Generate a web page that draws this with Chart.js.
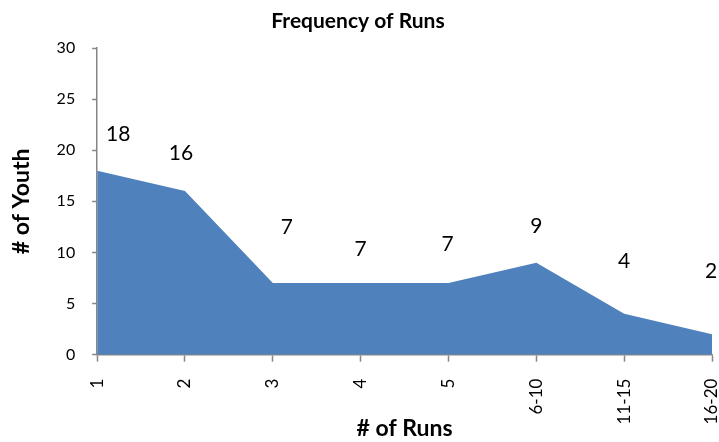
<!DOCTYPE html>
<html><head><meta charset="utf-8">
<script src="https://cdn.jsdelivr.net/npm/chart.js@4/dist/chart.umd.min.js"></script>
<style>html,body{margin:0;padding:0;background:#fff}#wrap{width:719px;height:442px}</style>
</head><body><div id="wrap"><canvas id="c" width="719" height="442"></canvas></div>
<script>
const categories = ["1","2","3","4","5","6-10","11-15","16-20"];
const youthCounts = [18,16,7,7,7,9,4,2];
const yTicks = [0,5,10,15,20,25,30];

const FONT = "Lato, 'Open Sans', 'Liberation Sans', sans-serif";
// label placement offsets (px) relative to each point, mimicking the reference
const labelOffsets = [[21,-36],[-4,-38],[14,-56],[0,-34],[-1,-39],[0,-36],[0,-53],[-1,-63]];

const dataLabels = {
  id: 'dataLabels',
  afterDatasetsDraw(chart) {
    const ctx = chart.ctx;
    const meta = chart.getDatasetMeta(0);
    ctx.save();
    ctx.font = "21px " + FONT;
    ctx.fillStyle = "#000";
    ctx.textAlign = "center";
    ctx.textBaseline = "middle";
    meta.data.forEach((pt, i) => {
      const o = labelOffsets[i] || [0, -30];
      ctx.fillText(String(youthCounts[i]), pt.x + o[0], pt.y + o[1]);
    });
    ctx.restore();
  }
};

new Chart(document.getElementById('c'), {
  type: 'line',
  data: {
    labels: categories,
    datasets: [{
      data: youthCounts,
      fill: 'origin',
      backgroundColor: '#4F81BD',
      borderColor: '#4F81BD',
      borderWidth: 0,
      pointRadius: 0,
      tension: 0
    }]
  },
  plugins: [dataLabels],
  options: {
    responsive: false,
    animation: false,
    layout: { padding: { left: 4, right: 7, top: 0, bottom: 0 } },
    plugins: {
      legend: { display: false },
      tooltip: { enabled: false },
      title: {
        display: true,
        text: 'Frequency of Runs',
        color: '#000',
        font: { family: FONT, size: 21, weight: 'bold', lineHeight: 1.2 },
        padding: { top: 9, bottom: 13.8 }
      }
    },
    scales: {
      x: {
        offset: false,
        afterFit(scale) { scale.paddingLeft = 0; scale.paddingRight = 0; },
        grid: { display: true, drawOnChartArea: false, drawTicks: true, tickLength: 7, tickWidth: 1.5, color: '#868686', offset: false },
        border: { display: true, color: '#868686', width: 1.5 },
        ticks: { color: '#000', font: { family: FONT, size: 17 }, maxRotation: 90, minRotation: 90, padding: 17, autoSkip: false },
        title: { display: true, text: '# of Runs', color: '#000', font: { family: FONT, size: 23, weight: 'bold', lineHeight: 1.2 }, padding: { top: -27, bottom: 0 } }
      },
      y: {
        min: 0, max: 30,
        afterBuildTicks(axis) { axis.ticks = yTicks.map(v => ({ value: v })); },
        grid: { display: true, drawOnChartArea: false, drawTicks: true, tickLength: 5, tickWidth: 1.5, color: '#868686' },
        border: { display: true, color: '#868686', width: 1.5 },
        ticks: { color: '#000', font: { family: FONT, size: 16 }, padding: 17 },
        title: { display: true, text: '# of Youth', color: '#000', font: { family: FONT, size: 23, weight: 'bold', lineHeight: 1.2 }, padding: { top: 4, bottom: 4 } }
      }
    }
  }
});
</script></body></html>
